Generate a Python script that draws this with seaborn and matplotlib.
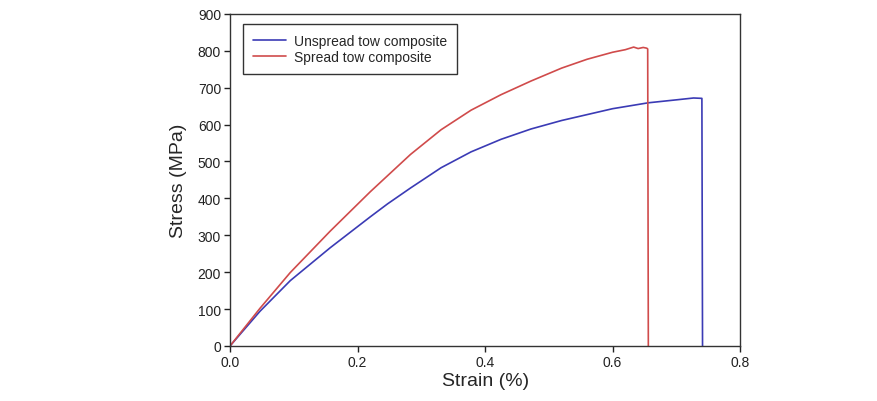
import matplotlib
matplotlib.use("Agg")
import matplotlib.pyplot as plt
import seaborn as sns
import pandas as pd

unspread_strain = [0.0, 0.047, 0.0945, 0.157, 0.220, 0.247, 0.283, 0.331, 0.378, 0.425, 0.472, 0.520,
                   0.600, 0.656, 0.700, 0.727, 0.740, 0.741]
unspread_stress = [0, 94, 177, 266, 350, 385, 428, 483, 526, 560, 588, 611,
                   643, 659, 667, 672, 671, 0]

spread_strain = [0.0, 0.047, 0.0945, 0.157, 0.220, 0.283, 0.331, 0.378, 0.425, 0.472, 0.520,
                 0.560, 0.600, 0.620, 0.633, 0.640, 0.648, 0.6535, 0.655, 0.656]
spread_stress = [0, 102, 199, 311, 418, 519, 586, 639, 681, 718, 753,
                 777, 796, 803, 810, 806, 809, 807, 805, 0]

series_names = ["Unspread tow composite", "Spread tow composite"]
colors = ["#3b3bb5", "#d04b4b"]

df = pd.concat([
    pd.DataFrame({"Strain": unspread_strain, "Stress": unspread_stress, "Series": series_names[0]}),
    pd.DataFrame({"Strain": spread_strain, "Stress": spread_stress, "Series": series_names[1]}),
], ignore_index=True)

sns.set_style("ticks")
plt.rcParams["font.family"] = ["Liberation Sans", "DejaVu Sans"]

fig = plt.figure(figsize=(8.78, 4.02), dpi=100)
ax = fig.add_axes([0.262, 0.137, 0.581, 0.826])

sns.lineplot(data=df, x="Strain", y="Stress", hue="Series", palette=dict(zip(series_names, colors)),
             sort=False, estimator=None, linewidth=1.2, ax=ax)

ax.set_xlim(0, 0.8)
ax.set_ylim(0, 900)
ax.set_xticks([0.0, 0.2, 0.4, 0.6, 0.8])
ax.set_xticklabels(["0.0", "0.2", "0.4", "0.6", "0.8"])
ax.set_yticks(range(0, 901, 100))
ax.tick_params(axis="both", direction="out", length=4, width=1, labelsize=10, colors="#222222",
               top=False, right=False, pad=2.5)
for s in ax.spines.values():
    s.set_visible(True)
    s.set_color("#333333")
    s.set_linewidth(1.0)

ax.set_xlabel("Strain (%)", fontsize=14, labelpad=2)
ax.set_ylabel("Stress (MPa)", fontsize=14, labelpad=8)

leg = ax.legend(loc="upper left", bbox_to_anchor=(0.025, 0.97), fontsize=10, frameon=True,
                fancybox=False, edgecolor="black", handlelength=2.4, handletextpad=0.6,
                borderpad=0.7, labelspacing=0.2, borderaxespad=0)
leg.get_frame().set_linewidth(1.0)
leg.set_title(None)

fig.savefig("out.png", dpi=100)
